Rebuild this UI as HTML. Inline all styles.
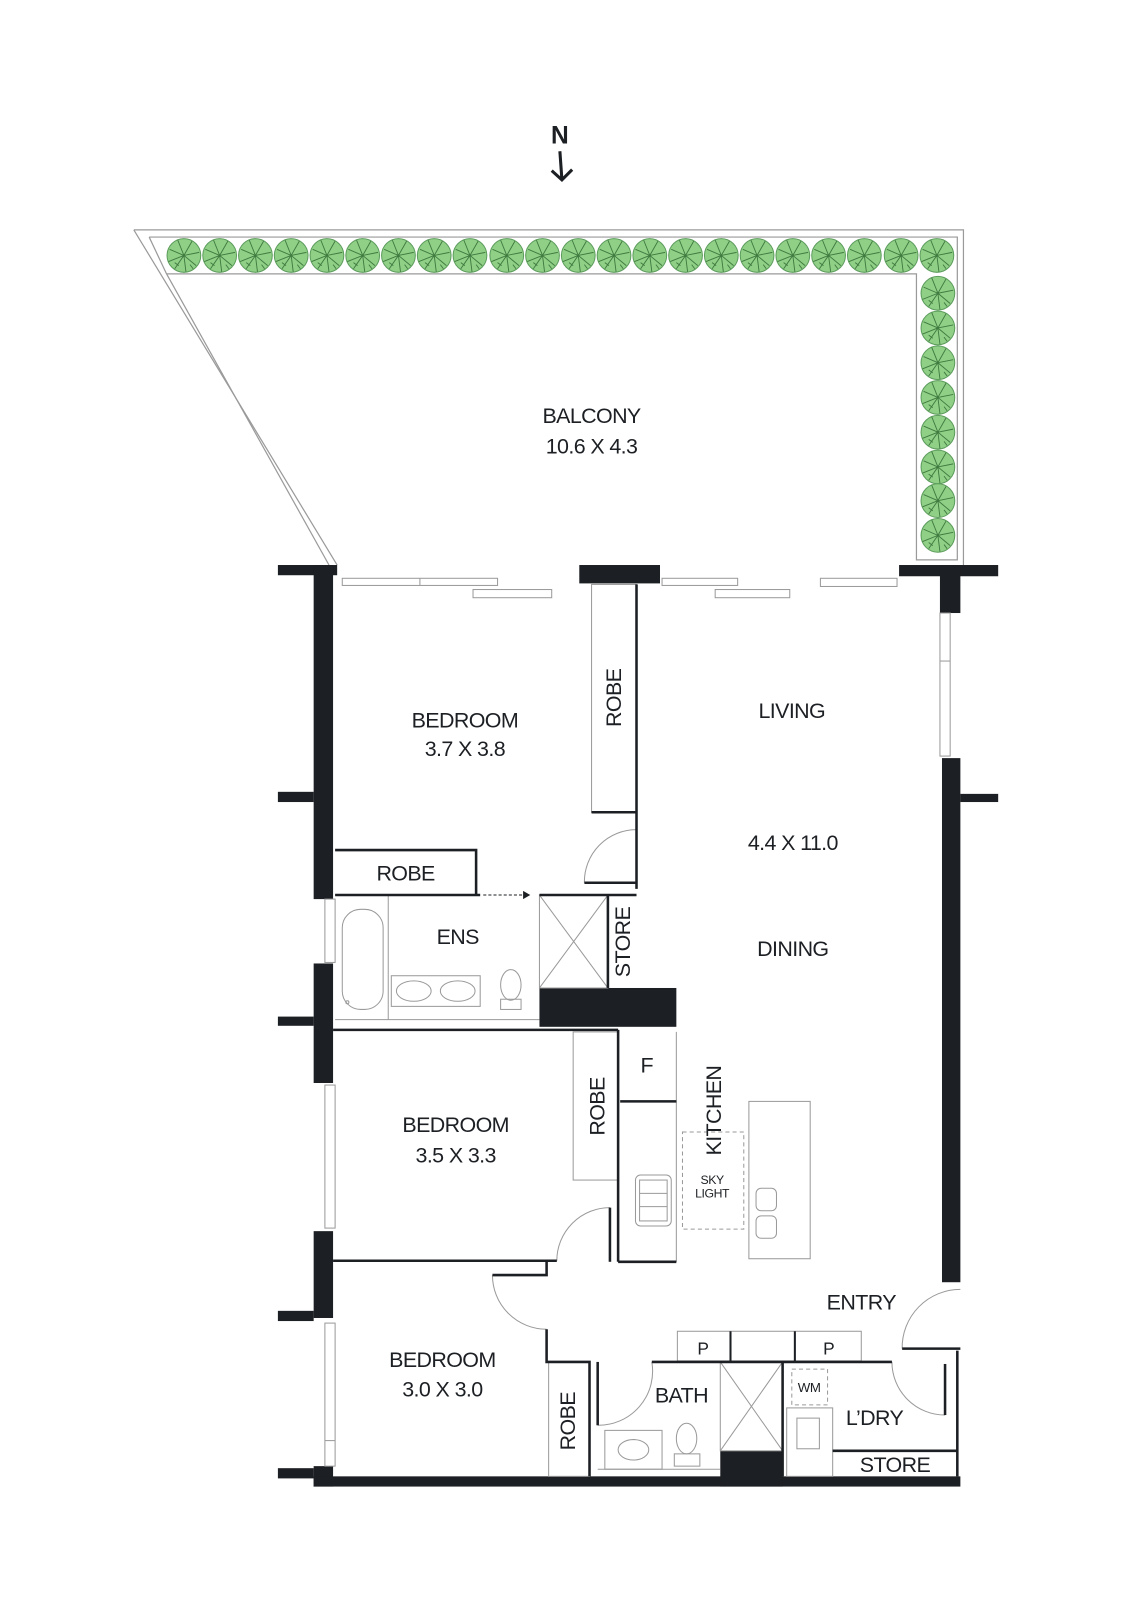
<!DOCTYPE html>
<html><head><meta charset="utf-8"><style>
html,body{margin:0;padding:0;background:#fff;}
svg{display:block}
text{font-family:"Liberation Sans",sans-serif;fill:#1c1f23;text-anchor:middle;dominant-baseline:central;}
.l{font-size:21px;letter-spacing:-0.6px}
.s{font-size:12px;letter-spacing:-0.4px}
</style></head><body>
<svg width="1131" height="1600" viewBox="0 0 1107 1566" xmlns="http://www.w3.org/2000/svg">
<defs>
<g id="t"><circle r="16.5" fill="#8fcf86" stroke="#5c9c5c" stroke-width="1"/>
<path d="M0 0L-14 -6M0 0L-6 -15M0 0L8 -14M0 0L15 -3M0 0L12 10M0 0L2 16M0 0L-9 13M0 0L-15 6M-5 10l-4 -3M6 9l3 4" stroke="#3f7a3f" stroke-width="0.9" fill="none"/></g>
</defs>
<!-- North arrow -->
<text x="548" y="133" style="font-size:24px;font-weight:bold">N</text>
<path d="M548 148 L550 176 M540 167 L550 176 L560 166" stroke="#1c1f23" stroke-width="3" fill="none"/>
<!-- balcony -->
<g fill="none" stroke="#9a9a9a" stroke-width="1.2">
<path d="M131 225 L943 225 L943 553"/>
<path d="M131 225 L330 553"/>
<path d="M146 232 L937 232 L937 548 L897 548 L897 268 L163 268"/>
<path d="M146 232 L163 268"/>
<path d="M163 268 L322 553"/>
</g>
<g>
<use href="#t" x="180" y="250"/><use href="#t" x="215" y="250"/><use href="#t" x="250" y="250"/><use href="#t" x="285" y="250"/><use href="#t" x="320" y="250"/><use href="#t" x="355" y="250"/><use href="#t" x="390" y="250"/><use href="#t" x="425" y="250"/><use href="#t" x="460" y="250"/><use href="#t" x="496" y="250"/><use href="#t" x="531" y="250"/><use href="#t" x="566" y="250"/><use href="#t" x="601" y="250"/><use href="#t" x="636" y="250"/><use href="#t" x="671" y="250"/><use href="#t" x="706" y="250"/><use href="#t" x="741" y="250"/><use href="#t" x="776" y="250"/><use href="#t" x="811" y="250"/><use href="#t" x="846" y="250"/><use href="#t" x="882" y="250"/><use href="#t" x="917" y="250"/>
<use href="#t" x="918" y="287"/><use href="#t" x="918" y="321"/><use href="#t" x="918" y="355"/><use href="#t" x="918" y="389"/><use href="#t" x="918" y="423"/><use href="#t" x="918" y="457"/><use href="#t" x="918" y="490"/><use href="#t" x="918" y="524"/>
</g>
<!-- dark walls -->
<g fill="#1c1f23">
<rect x="272" y="553" width="58" height="10"/>
<rect x="307" y="553" width="19" height="327"/>
<rect x="272" y="775" width="35" height="10"/>
<rect x="307" y="943" width="19" height="117"/>
<rect x="272" y="995" width="35" height="9"/>
<rect x="307" y="1205" width="19" height="85"/>
<rect x="272" y="1283" width="35" height="10"/>
<rect x="272" y="1437" width="35" height="10"/>
<rect x="307" y="1435" width="19" height="20"/>
<rect x="307" y="1445" width="633" height="10"/>
<rect x="567" y="553" width="79" height="18"/>
<rect x="880" y="553" width="97" height="11"/>
<rect x="920" y="553" width="20" height="47"/>
<rect x="922" y="742" width="18" height="513"/>
<rect x="940" y="777" width="37" height="8"/>
<rect x="528" y="967" width="134" height="38"/>
<rect x="705" y="1420" width="61" height="35"/>
</g>
<!-- windows / sliding doors -->
<g fill="#fff" stroke="#9a9a9a" stroke-width="1">
<rect x="335" y="566" width="152" height="7"/><line x1="411" y1="566" x2="411" y2="573"/>
<rect x="463" y="577" width="77" height="8"/>
<rect x="648" y="566" width="74" height="7"/>
<rect x="700" y="577" width="73" height="8"/>
<rect x="803" y="566" width="75" height="8"/>
<rect x="920" y="600" width="10" height="140"/><line x1="920" y1="647" x2="930" y2="647"/>
<rect x="318" y="880" width="10" height="62"/>
<rect x="318" y="1062" width="10" height="140"/>
<rect x="318" y="1295" width="10" height="140"/><line x1="318" y1="1410" x2="328" y2="1410"/>
</g>
<!-- thin grey fixtures -->
<g fill="none" stroke="#9a9a9a" stroke-width="1">
<rect x="579" y="572" width="44" height="223"/>
<rect x="335" y="890" width="40" height="98" rx="18"/>
<circle cx="340" cy="981" r="1.5"/>
<line x1="380" y1="876" x2="380" y2="998"/>
<rect x="383" y="955" width="87" height="30"/>
<ellipse cx="405" cy="970" rx="17" ry="10"/><ellipse cx="448" cy="970" rx="17" ry="10"/>
<ellipse cx="500" cy="964" rx="10" ry="15"/><rect x="490" y="978" width="20" height="10"/>
<rect x="528" y="876" width="67" height="91"/>
<path d="M528 876 L595 967 M595 876 L528 967"/>
<line x1="328" y1="998" x2="528" y2="998"/>
<rect x="561" y="1010" width="44" height="145"/>
<rect x="622" y="1150" width="35" height="50" rx="5"/><rect x="626" y="1155" width="27" height="40"/>
<line x1="626" y1="1168" x2="653" y2="1168"/><line x1="626" y1="1181" x2="653" y2="1181"/>
<line x1="662" y1="1010" x2="662" y2="1235"/>
<rect x="733" y="1078" width="60" height="154"/>
<rect x="740" y="1163" width="20" height="22" rx="5"/><rect x="740" y="1190" width="20" height="22" rx="5"/>
<rect x="663" y="1303" width="180" height="29"/>
<line x1="715" y1="1303" x2="715" y2="1332" stroke="#1c1f23" stroke-width="2"/>
<line x1="778" y1="1303" x2="778" y2="1332" stroke="#1c1f23" stroke-width="2"/>
<rect x="537" y="1333" width="40" height="112"/>
<rect x="592" y="1400" width="56" height="38"/><ellipse cx="620" cy="1419" rx="15" ry="10"/>
<ellipse cx="672" cy="1408" rx="10" ry="15"/><rect x="660" y="1423" width="25" height="12"/>
<line x1="585" y1="1438" x2="705" y2="1438"/>
<rect x="705" y="1333" width="61" height="87"/>
<path d="M705 1333 L766 1420 M766 1333 L705 1420"/>
<rect x="770" y="1378" width="45" height="67"/><rect x="780" y="1388" width="22" height="30"/>
<path d="M623 812 A51 51 0 0 0 572 864"/>
<path d="M597 1182 A52 52 0 0 0 545 1234"/>
<path d="M482 1248 A53 53 0 0 0 535 1301"/>
<path d="M585 1395 A53 53 0 0 0 638 1333"/>
<path d="M873 1333 A52 52 0 0 0 925 1385"/>
<path d="M940 1262 A57 57 0 0 0 883 1320"/>
</g>
<g fill="none" stroke="#9a9a9a" stroke-width="1" stroke-dasharray="4 3">
<rect x="668" y="1108" width="60" height="95"/>
<rect x="775" y="1340" width="35" height="35"/>
</g>
<!-- dark thin lines -->
<g fill="none" stroke="#1c1f23" stroke-width="2.5">
<path d="M623 572 L623 870"/>
<path d="M579 795 L623 795"/>
<path d="M572 864 L623 864"/>
<path d="M328 832 L466 832 L466 876"/>
<path d="M328 876 L470 876"/>
<path d="M528 876 L623 876"/>
<path d="M595 876 L595 967"/>
<path d="M326 1008 L605 1008"/>
<path d="M605 1008 L605 1235"/>
<path d="M607 1078 L662 1078"/>
<path d="M605 1235 L662 1235"/>
<path d="M597 1182 L597 1235"/>
<path d="M326 1234 L545 1234"/>
<path d="M535 1234 L535 1248 L482 1248"/>
<path d="M535 1301 L535 1333 L577 1333 L577 1445"/>
<path d="M585 1333 L585 1395"/>
<path d="M638 1333 L873 1333"/>
<path d="M766 1333 L766 1445"/>
<path d="M815 1420 L937 1420"/>
<path d="M883 1320 L940 1320"/>
<path d="M925 1335 L925 1385"/>
<path d="M937 1322 L937 1445"/>
</g>
<path d="M473 876 L512 876" stroke="#1c1f23" stroke-width="1" stroke-dasharray="3 2"/>
<path d="M512 872 L519 876 L512 880Z" fill="#1c1f23"/>
<!-- labels -->
<text class="l" x="579" y="407">BALCONY</text>
<text class="l" x="579" y="437">10.6 X 4.3</text>
<text class="l" x="455" y="705">BEDROOM</text>
<text class="l" x="455" y="733">3.7 X 3.8</text>
<text class="l" transform="translate(601,683) rotate(-90)">ROBE</text>
<text class="l" x="775" y="696">LIVING</text>
<text class="l" x="776" y="825">4.4 X 11.0</text>
<text class="l" x="776" y="929">DINING</text>
<text class="l" x="397" y="855">ROBE</text>
<text class="l" x="448" y="917">ENS</text>
<text class="l" transform="translate(610,922) rotate(-90)">STORE</text>
<text class="l" x="446" y="1101">BEDROOM</text>
<text class="l" x="446" y="1131">3.5 X 3.3</text>
<text class="l" transform="translate(585,1083) rotate(-90)">ROBE</text>
<text class="l" x="633" y="1043">F</text>
<text class="l" transform="translate(699,1087) rotate(-90)">KITCHEN</text>
<text class="s" x="697" y="1155">SKY</text>
<text class="s" x="697" y="1168">LIGHT</text>
<text class="l" x="843" y="1275">ENTRY</text>
<text class="l" x="433" y="1331">BEDROOM</text>
<text class="l" x="433" y="1360">3.0 X 3.0</text>
<text class="l" transform="translate(556,1391) rotate(-90)">ROBE</text>
<text class="l" x="667" y="1366">BATH</text>
<text class="l" style="font-size:17px" x="688" y="1320">P</text>
<text class="l" style="font-size:17px" x="811" y="1320">P</text>
<text class="s" style="font-size:13px" x="792" y="1358">WM</text>
<text class="l" x="856" y="1388">L’DRY</text>
<text class="l" x="876" y="1434">STORE</text>
</svg>
</body></html>
